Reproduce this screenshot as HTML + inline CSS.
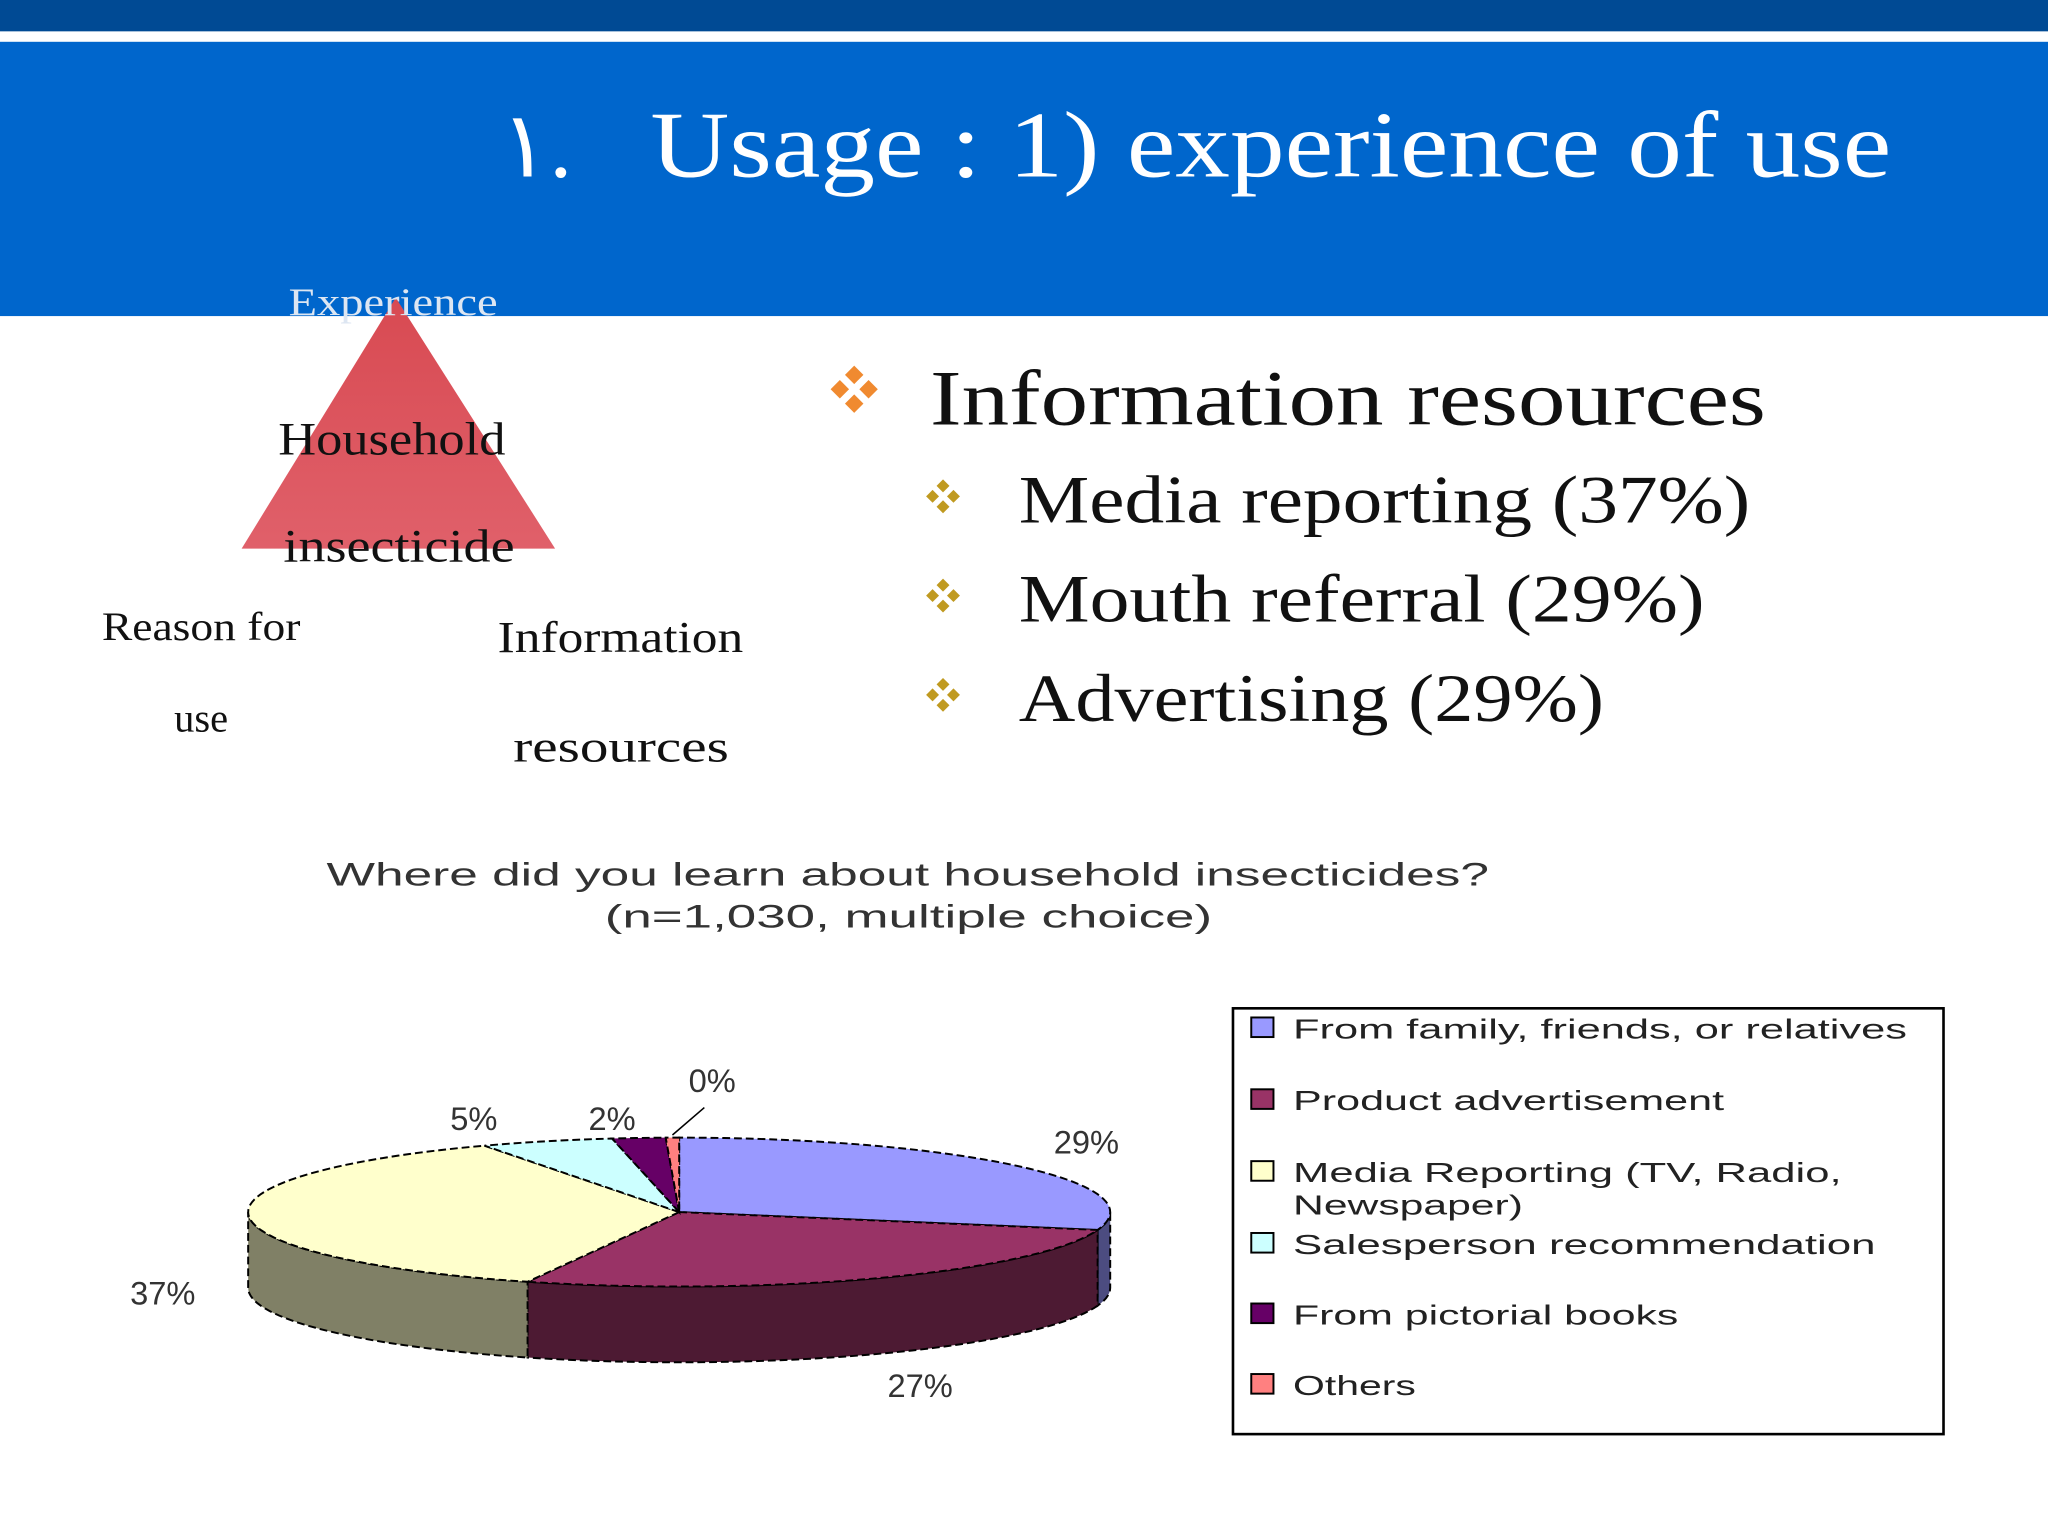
<!DOCTYPE html>
<html><head><meta charset="utf-8"><style>
html,body{margin:0;padding:0;background:#fff;}
svg{display:block;}
.serif{font-family:"Liberation Serif","DejaVu Serif",serif;}
.sans{font-family:"Liberation Sans","DejaVu Sans",sans-serif;}
</style></head><body>
<svg id="slide" width="2048" height="1536" viewBox="0 0 1568 1176" xmlns="http://www.w3.org/2000/svg">
<defs>
<linearGradient id="tri" x1="0" y1="0" x2="0" y2="1"><stop offset="0" stop-color="#d84a52"/><stop offset="1" stop-color="#e0606a"/></linearGradient>
</defs>
<rect x="0" y="0" width="1568" height="24" fill="#004a94"/>
<rect x="0" y="32" width="1568" height="210" fill="#0066cc"/>
<text x="383" y="135" class="serif" font-size="70" fill="#fff">١.</text>
<text x="498" y="135" class="serif" font-size="72" fill="#fff" textLength="950" lengthAdjust="spacingAndGlyphs">Usage : 1) experience of use</text>

<polygon points="303,228 185,420 425,420" fill="url(#tri)"/>
<text x="221" y="241" class="serif" font-size="30" fill="#dde6f2" textLength="160" lengthAdjust="spacingAndGlyphs">Experience</text>
<text x="213" y="348" class="serif" font-size="36" fill="#111" textLength="174" lengthAdjust="spacingAndGlyphs">Household</text>
<text x="217" y="430" class="serif" font-size="36" fill="#111" textLength="177" lengthAdjust="spacingAndGlyphs">insecticide</text>
<text x="78" y="490" class="serif" font-size="31" fill="#111" textLength="152" lengthAdjust="spacingAndGlyphs">Reason for</text>
<text x="154" y="560" class="serif" font-size="31" fill="#111" text-anchor="middle">use</text>
<text x="381" y="499" class="serif" font-size="34" fill="#111" textLength="188" lengthAdjust="spacingAndGlyphs">Information</text>
<text x="393" y="583" class="serif" font-size="34" fill="#111" textLength="165" lengthAdjust="spacingAndGlyphs">resources</text>

<g fill="#f08a30">
<rect x="649" y="282" width="10" height="10" transform="rotate(45 654 287)"/>
<rect x="649" y="304" width="10" height="10" transform="rotate(45 654 309)"/>
<rect x="638" y="293" width="10" height="10" transform="rotate(45 643 298)"/>
<rect x="660" y="293" width="10" height="10" transform="rotate(45 665 298)"/>
</g>
<text x="712" y="325" class="serif" font-size="60" fill="#111" textLength="640" lengthAdjust="spacingAndGlyphs">Information resources</text>
<g id="subbullets"></g>

<text x="250" y="678" class="sans" font-size="25" fill="#333" textLength="890" lengthAdjust="spacingAndGlyphs">Where did you learn about household insecticides?</text>
<text x="463" y="710" class="sans" font-size="25" fill="#333" textLength="465" lengthAdjust="spacingAndGlyphs">(n=1,030, multiple choice)</text>

<g id="pie"></g>

<rect x="944" y="772" width="544" height="326" fill="#fff" stroke="#000" stroke-width="2"/>
<g id="legend"></g>
</svg>
<script>
const NS='http://www.w3.org/2000/svg';
const categories=['From family, friends, or relatives','Product advertisement','Media Reporting (TV, Radio, Newspaper)','Salesperson recommendation','From pictorial books','Others'];
const values=[29,27,37,5,2,0.5];
const valueLabels=['29%','27%','37%','5%','2%','0%'];
const topColors=['#9999ff','#993366','#ffffcc','#ccffff','#660066','#ff8080'];
const sideColors=['#4c4c80','#4d1a33','#808066','#668080','#330033','#804040'];
const bulletTexts=['Media reporting (37%)','Mouth referral (29%)','Advertising (29%)'];
const bulletWidths=[560,525,448];
const legendWidths=[470,330,420,446,295,94];

function mk(tag,attrs,parent){const e=document.createElementNS(NS,tag);for(const k in attrs)e.setAttribute(k,attrs[k]);parent.appendChild(e);return e;}

const sb=document.getElementById('subbullets');
bulletTexts.forEach((t,i)=>{
  const y=400+i*76;
  const g=mk('g',{fill:'#c09a20'},sb);
  
  
  [[722,y-28],[722,y-12],[714,y-20],[730,y-20]].forEach(p=>mk('rect',{x:p[0]-3.5,y:p[1]-3.5,width:7,height:7,transform:`rotate(45 ${p[0]} ${p[1]})`},g));
  const tx=mk('text',{x:780,y:y,'font-size':52,fill:'#111',class:'serif',textLength:bulletWidths[i],lengthAdjust:'spacingAndGlyphs'},sb);
  tx.textContent=t;
  
  
});

const cx=520,cy=928,rx=330,ry=57,depth=58;
const pie=document.getElementById('pie');
const total=values.reduce((a,b)=>a+b,0);
function pt(deg,dy){const r=deg*Math.PI/180;return [cx+rx*Math.sin(r),cy-ry*Math.cos(r)+(dy||0)];}
function arc(a,b,dy){let s='';const n=Math.max(2,Math.ceil((b-a)/2));for(let i=0;i<=n;i++){const p=pt(a+(b-a)*i/n,dy);s+=(i?'L':'')+p[0].toFixed(2)+','+p[1].toFixed(2)+' ';}return s;}
let acc=0;const angles=values.map(v=>{const a=acc/total*360;acc+=v;return [a,acc/total*360];});
angles.forEach((ab,i)=>{
  const a=Math.max(ab[0],90),b=Math.min(ab[1],270);
  if(b<=a)return;
  const top=arc(a,b,0);
  const n=Math.max(2,Math.ceil((b-a)/2));let back='';
  for(let k=n;k>=0;k--){const p=pt(a+(b-a)*k/n,depth);back+='L'+p[0].toFixed(2)+','+p[1].toFixed(2)+' ';}
  const s=mk('path',{d:'M'+top+back+'Z',fill:sideColors[i],stroke:'#000','stroke-width':1.5,'stroke-dasharray':'6 3'},pie);
  
  
});
angles.forEach((ab,i)=>{
  const d='M'+cx+','+cy+' L'+arc(ab[0],ab[1],0)+'Z';
  const s=mk('path',{d:d,fill:topColors[i],stroke:'#000','stroke-width':1.5,'stroke-dasharray':'6 3'},pie);
  
  
});
angles.forEach((ab,i)=>{
  const m=(ab[0]+ab[1])/2,r=m*Math.PI/180;
  let x=cx+rx*1.2*Math.sin(r),y=cy-ry*1.5*Math.cos(r);
  if(Math.cos(r)<0)y+=depth;
  if(values[i]<8){x=cx+rx*1.5*Math.sin(r)+(i===5?33:-5);y=cy-ry-14-(i===5?29:0);}
  y+=8;
  const t=mk('text',{x:x.toFixed(1),y:y.toFixed(1),'font-size':25,fill:'#333',class:'sans','text-anchor':'middle'},pie);
  t.textContent=valueLabels[i];
  
  
  if(i===5){const p=pt(m,0);const l=mk('path',{d:`M${p[0]},${p[1]-2} L${x-6},${y+12}`,stroke:'#000','stroke-width':1.2,fill:'none'},pie);
    
    }
});

const lg=document.getElementById('legend');
const ly=[787,842,897,952,1006,1060];
categories.forEach((c,i)=>{
  const g=mk('g',{},lg);
  
  
  mk('rect',{x:958,y:ly[i]-8,width:17,height:15,fill:topColors[i],stroke:'#000','stroke-width':1.5},g);
  if(i===2){
    const t1=mk('text',{x:990,y:ly[i]+8,'font-size':21,fill:'#222',class:'sans',textLength:legendWidths[i],lengthAdjust:'spacingAndGlyphs'},g);t1.textContent='Media Reporting (TV, Radio,';
    const t2=mk('text',{x:990,y:ly[i]+33,'font-size':21,fill:'#222',class:'sans',textLength:176,lengthAdjust:'spacingAndGlyphs'},g);t2.textContent='Newspaper)';
  }else{
    const t=mk('text',{x:990,y:ly[i]+8,'font-size':21,fill:'#222',class:'sans',textLength:legendWidths[i],lengthAdjust:'spacingAndGlyphs'},g);t.textContent=c;
  }
});
</script>
</body></html>
